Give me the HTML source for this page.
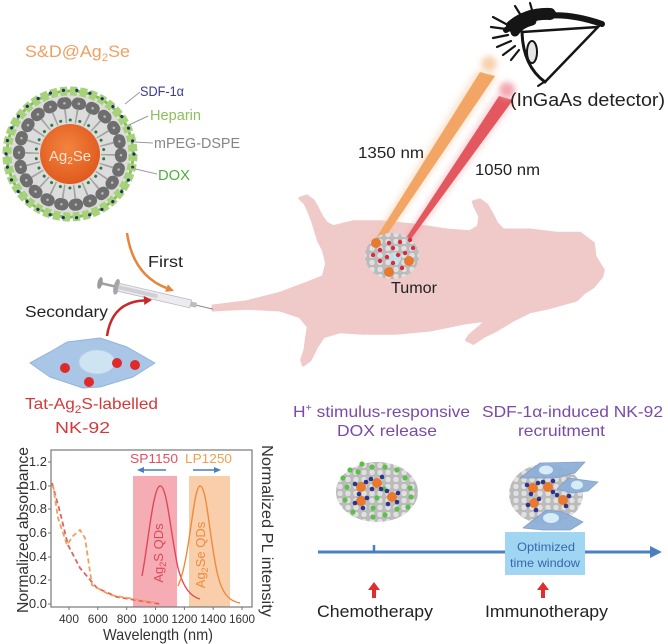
<!DOCTYPE html>
<html><head><meta charset="utf-8"><style>
html,body{margin:0;padding:0;background:#fff;}
svg{display:block;}
text{font-family:"Liberation Sans",Arial,sans-serif;}
</style></head><body>
<svg width="668" height="644" viewBox="0 0 668 644" xmlns="http://www.w3.org/2000/svg">
<defs>
<radialGradient id="core" cx="0.45" cy="0.4" r="0.6"><stop offset="0" stop-color="#f3843f"/><stop offset="1" stop-color="#e05a1e"/></radialGradient>
<pattern id="tex" width="8" height="7" patternUnits="userSpaceOnUse"><rect width="8" height="7" fill="#bcbcbc"/><circle cx="4" cy="3.5" r="3.1" fill="#e0e0e0" stroke="#a9a9a9" stroke-width="0.5"/></pattern>
<filter id="blur3" x="-50%" y="-50%" width="200%" height="200%"><feGaussianBlur stdDeviation="3"/></filter>
</defs>

<!-- Mouse -->
<path fill="#f0c9c9" stroke="#f0c9c9" stroke-width="3" stroke-linejoin="round" d="M213,306 L247,301.7 L280,293.3 L306.7,283.3 L323.3,276.7 L326.7,263.3 L323.3,250 L318.3,240 L313.3,223.3 L308.3,210 L305,203.3 L300,198.3 L306.7,196 L313.3,200.7 L316.7,206.7 L321.7,216.7 L326.7,223.3 L333.3,226.7 L353.3,221.7 L380,221.7 L413.3,225 L446.7,230 L470,231.7 L478.3,226.7 L480,216.7 L475,206.7 L473.3,201.7 L480,200 L486.7,205 L491.7,213.3 L496.7,223.3 L503.3,230 L530,230 L556.7,233.3 L580,233.3 L593.3,243.3 L595,256.7 L603.3,270 L601.7,276.7 L593.3,286.7 L583.3,293.3 L576.7,300 L546.7,308.3 L530,311.7 L513.3,320 L496.7,330 L483.3,336.7 L473.3,343.3 L466.7,340 L470,335 L480,326.7 L486.7,320 L463.3,323.3 L430,330 L396.7,333.3 L363.3,333.3 L340,331.7 L323.3,336.7 L316.7,346.7 L310,360 L303.3,365 L301.7,360 L305,350 L306.7,336.7 L308.3,326.7 L300,316.7 L280,310 L246.7,308.3 L213,310 Z"/>

<!-- Beams -->
<polygon points="476,70 498,76 382,246 370,243" fill="#f6c8a0" opacity="0.45" filter="url(#blur3)"/>
<polygon points="496,94 516,100 410,244 401,242" fill="#f2a8b0" opacity="0.45" filter="url(#blur3)"/>
<polygon points="480,72 495,76 380,245 373,243" fill="#f2a564"/>
<polygon points="499,96 513,100 408,243 404,241" fill="#e2585e"/>
<circle cx="489" cy="64" r="8" fill="#f8d2b0" filter="url(#blur3)"/>
<circle cx="507" cy="90" r="8" fill="#f4a8b0" filter="url(#blur3)"/>

<!-- Tumor in mouse -->
<ellipse cx="392" cy="256" rx="27" ry="23" fill="url(#tex)"/>
<circle cx="395" cy="258" r="6" fill="#bfe6f0" opacity="0.8"/>
<g fill="#d42c40">
<circle cx="389" cy="243" r="2.2"/><circle cx="400" cy="242" r="2.2"/><circle cx="410" cy="240" r="2.2"/><circle cx="380" cy="250" r="2.2"/><circle cx="393" cy="248" r="2.2"/><circle cx="387" cy="257" r="2.2"/><circle cx="398" cy="255" r="2.2"/><circle cx="380" cy="261" r="2.2"/><circle cx="393" cy="263" r="2.2"/><circle cx="405" cy="253" r="2.2"/><circle cx="413" cy="248" r="2.2"/><circle cx="373" cy="255" r="2.2"/><circle cx="402" cy="268" r="2.2"/>
</g>
<g fill="#e8792e"><circle cx="376" cy="243" r="5"/><circle cx="409" cy="261" r="5"/><circle cx="389" cy="272" r="5"/></g>
<text x="391" y="293" font-size="16" fill="#222" textLength="46" lengthAdjust="spacingAndGlyphs">Tumor</text>

<!-- Eye -->
<g stroke="#151515" fill="none" stroke-linecap="round">
<path d="M522,32 L598,27 L545,82" stroke-width="2.5"/>
<path d="M522,32 Q523,66 545,82" stroke-width="3"/>
<ellipse cx="532" cy="52" rx="5" ry="11" stroke-width="2" fill="#e6e6e6"/>
<path d="M506,30 Q545,4 602,24" stroke-width="6"/>
<path d="M512,26 Q528,13 550,14" stroke-width="12"/>
<path d="M515,32 Q520,24 532,21" stroke-width="9"/>
<g stroke-width="2.2">
<path d="M506,24 L493,17"/><path d="M506,29 L491,27"/><path d="M508,35 L493,38"/><path d="M511,41 L497,47"/><path d="M515,46 L503,55"/><path d="M519,50 L511,60"/><path d="M520,14 L515,6"/><path d="M532,10 L530,3"/>
</g>
<path d="M544,82 L538,86" stroke-width="2"/>
</g>
<text x="510" y="106" font-size="18" fill="#222" textLength="155" lengthAdjust="spacingAndGlyphs">(InGaAs detector)</text>
<text x="358" y="158" font-size="16" fill="#222" textLength="66" lengthAdjust="spacingAndGlyphs">1350 nm</text>
<text x="475" y="175" font-size="16" fill="#222" textLength="65" lengthAdjust="spacingAndGlyphs">1050 nm</text>

<!-- Nanoparticle -->
<text x="25" y="57" font-size="17" fill="#f0a060" textLength="105" lengthAdjust="spacingAndGlyphs">S&amp;D@Ag<tspan font-size="11" dy="4">2</tspan><tspan dy="-4">Se</tspan></text>
<g transform="translate(70,154)">
<circle r="61" fill="#dcdcdc"/>
<circle r="63" fill="none" stroke="#8cbf5c" stroke-width="3"/>
<circle r="63" fill="none" stroke="#a6d27a" stroke-width="9" stroke-dasharray="7 2.896"/>
<circle r="64" fill="none" stroke="#22306a" stroke-width="3.2" stroke-linecap="round" stroke-dasharray="0.1 13.304"/>
<circle r="38" fill="none" stroke="#a2a2a2" stroke-width="14" stroke-dasharray="1.6 9.253"/>
<circle r="51" fill="none" stroke="#6e6e6e" stroke-width="12" stroke-linecap="round" stroke-dasharray="2.5 12.065"/>
<circle r="51" fill="none" stroke="#b8b8b8" stroke-width="2.5" stroke-linecap="round" stroke-dasharray="0.1 14.465" stroke-dashoffset="-1.2"/>
<circle r="34" fill="none" stroke="#2f7a3a" stroke-width="3" stroke-linecap="round" stroke-dasharray="0.1 9.61" stroke-dashoffset="-4.8"/>
<circle r="30" fill="url(#core)"/>
<text x="0" y="7" font-size="15" fill="#fde4d0" text-anchor="middle">Ag<tspan font-size="10" dy="3">2</tspan><tspan dy="-3">Se</tspan></text>
</g>
<g stroke="#9a9a9a" stroke-width="1">
<line x1="125" y1="104" x2="140" y2="92"/>
<line x1="129" y1="125" x2="148" y2="116"/>
<line x1="134" y1="142" x2="153" y2="143"/>
<line x1="131" y1="168" x2="157" y2="174"/>
</g>
<text x="140" y="96" font-size="14" fill="#3a3a92" textLength="44" lengthAdjust="spacingAndGlyphs">SDF-1α</text>
<text x="150" y="120" font-size="15" fill="#8cc05a" textLength="51" lengthAdjust="spacingAndGlyphs">Heparin</text>
<text x="154" y="148" font-size="15" fill="#868686" textLength="86" lengthAdjust="spacingAndGlyphs">mPEG-DSPE</text>
<text x="158" y="180" font-size="15" fill="#4caf3c" textLength="32" lengthAdjust="spacingAndGlyphs">DOX</text>

<!-- Syringe -->
<g transform="rotate(13 100 283)">
<line x1="100" y1="283" x2="119" y2="283" stroke="#a0a0a0" stroke-width="2.5"/>
<ellipse cx="100" cy="283" rx="2.5" ry="6" fill="#9a9a9a"/>
<ellipse cx="117" cy="283" rx="3" ry="8" fill="#a6a6a6"/>
<rect x="119" y="279" width="74" height="8" fill="#ececf0" stroke="#b8b8c0" stroke-width="0.8"/>
<rect x="119" y="281" width="40" height="4" fill="#cfcfd4"/>
<rect x="193" y="280.5" width="6" height="5" fill="#bdbdbd"/>
<line x1="199" y1="283" x2="216" y2="283" stroke="#888" stroke-width="1"/>
</g>

<!-- Arrows -->
<path d="M127,233 Q133,275 166.5,288.1" fill="none" stroke="#e8843a" stroke-width="2.5"/>
<polygon points="174,291 165.1,291.8 167.9,284.4" fill="#e8843a"/>
<path d="M107,336 Q112,302 144,300.5" fill="none" stroke="#c8282a" stroke-width="2.5"/>
<polygon points="152,300 144.3,305 143.7,296" fill="#c8282a"/>
<text x="148" y="267" font-size="16" fill="#222" textLength="35" lengthAdjust="spacingAndGlyphs">First</text>
<text x="25" y="317" font-size="16" fill="#222" textLength="83" lengthAdjust="spacingAndGlyphs">Secondary</text>

<!-- NK cell -->
<polygon points="30,363 50,352 67,342 100,338 127,347 155,363 133,377 100,387 83,388 50,377" fill="#a9c6e6" stroke="#94b4da" stroke-width="1" stroke-linejoin="round"/>
<ellipse cx="97" cy="362" rx="18" ry="12" fill="#cfe4f2" stroke="#b4cfe6" stroke-width="0.8"/>
<g fill="#e02a2a"><circle cx="65" cy="368" r="5"/><circle cx="117" cy="363" r="5"/><circle cx="135" cy="365" r="5"/><circle cx="89" cy="382" r="5"/></g>
<text x="25" y="409" font-size="16" fill="#d23a3a" textLength="133" lengthAdjust="spacingAndGlyphs">Tat-Ag<tspan font-size="11" dy="4">2</tspan><tspan dy="-4">S-labelled</tspan></text>
<text x="55" y="433" font-size="16" fill="#d23a3a" textLength="55" lengthAdjust="spacingAndGlyphs">NK-92</text>

<!-- Chart -->
<rect x="133" y="476" width="44" height="131" fill="#f4a3ad" opacity="0.9"/>
<rect x="189" y="476" width="41" height="131" fill="#f8c9a2" opacity="0.9"/>
<rect x="51" y="450" width="201" height="157" fill="none" stroke="#777" stroke-width="1.2"/>
<g stroke="#777" stroke-width="1">
<line x1="48" y1="462" x2="51" y2="462"/><line x1="48" y1="486" x2="51" y2="486"/><line x1="48" y1="509" x2="51" y2="509"/><line x1="48" y1="533" x2="51" y2="533"/><line x1="48" y1="557" x2="51" y2="557"/><line x1="48" y1="580" x2="51" y2="580"/><line x1="48" y1="604" x2="51" y2="604"/>
<line x1="69" y1="607" x2="69" y2="610"/><line x1="97.8" y1="607" x2="97.8" y2="610"/><line x1="126.7" y1="607" x2="126.7" y2="610"/><line x1="155.5" y1="607" x2="155.5" y2="610"/><line x1="184.4" y1="607" x2="184.4" y2="610"/><line x1="213.2" y1="607" x2="213.2" y2="610"/><line x1="242" y1="607" x2="242" y2="610"/>
</g>
<g font-size="13" fill="#333" text-anchor="end">
<text x="47" y="466">1.2</text><text x="47" y="490">1.0</text><text x="47" y="513">0.8</text><text x="47" y="537">0.6</text><text x="47" y="561">0.4</text><text x="47" y="584">0.2</text><text x="47" y="608">0.0</text>
</g>
<g font-size="12" fill="#333">
<text x="59" y="623" textLength="20" lengthAdjust="spacingAndGlyphs">400</text>
<text x="87.8" y="623" textLength="20" lengthAdjust="spacingAndGlyphs">600</text>
<text x="116.7" y="623" textLength="20" lengthAdjust="spacingAndGlyphs">800</text>
<text x="142.5" y="623" textLength="26" lengthAdjust="spacingAndGlyphs">1000</text>
<text x="171.4" y="623" textLength="26" lengthAdjust="spacingAndGlyphs">1200</text>
<text x="200.2" y="623" textLength="26" lengthAdjust="spacingAndGlyphs">1400</text>
<text x="229" y="623" textLength="26" lengthAdjust="spacingAndGlyphs">1600</text>
</g>
<text x="103" y="640" font-size="16" fill="#333" textLength="110" lengthAdjust="spacingAndGlyphs">Wavelength (nm)</text>
<text transform="translate(28,613) rotate(-90)" font-size="16" fill="#333" textLength="166" lengthAdjust="spacingAndGlyphs">Normalized absorbance</text>
<text transform="translate(262,445) rotate(90)" font-size="16" fill="#333" textLength="172" lengthAdjust="spacingAndGlyphs">Normalized PL intensity</text>
<path d="M52,483 L60,512 L68,545 L80,568 L97,588 L117,597 L147,602 L160,604" fill="none" stroke="#e26262" stroke-width="1.8" stroke-dasharray="5 3"/>
<path d="M53,485 L58,518 L67,545 L73,536 L80,530 L85,538 L92,585 L110,595 L140,600 L157,603" fill="none" stroke="#f0a060" stroke-width="1.8" stroke-dasharray="5 3"/>
<path d="M142,576 C148,545 153,487 160,486 C167,485 170,530 178,568 C184,590 192,597 200,599" fill="none" stroke="#e04858" stroke-width="1.4"/>
<path d="M178,586 C190,560 193,487 200,486 C207,485 210,545 218,576 C222,592 228,601 240,603" fill="none" stroke="#f08a3a" stroke-width="1.4"/>
<text x="130" y="463" font-size="13" fill="#e05060" textLength="48" lengthAdjust="spacingAndGlyphs">SP1150</text>
<text x="185" y="463" font-size="13" fill="#f0a050" textLength="47" lengthAdjust="spacingAndGlyphs">LP1250</text>
<g stroke="#4a7cc0" stroke-width="1.6"><line x1="166" y1="470" x2="142" y2="470"/><line x1="193" y1="470" x2="216" y2="470"/></g>
<polygon points="137,470 144,467 144,473" fill="#4a7cc0"/>
<polygon points="221,470 214,467 214,473" fill="#4a7cc0"/>
<text transform="translate(163,553) rotate(-90)" font-size="13" fill="#e04858" text-anchor="middle">Ag<tspan font-size="9" dy="3">2</tspan><tspan dy="-3">S QDs</tspan></text>
<text transform="translate(205,555) rotate(-90)" font-size="13" fill="#f08a3a" text-anchor="middle">Ag<tspan font-size="9" dy="3">2</tspan><tspan dy="-3">Se QDs</tspan></text>

<!-- Bottom right texts -->
<text x="293" y="417" font-size="16" fill="#7a4aa8" textLength="177" lengthAdjust="spacingAndGlyphs">H<tspan font-size="10" dy="-6">+</tspan><tspan dy="6"> stimulus-responsive</tspan></text>
<text x="337" y="436" font-size="16" fill="#7a4aa8" textLength="100" lengthAdjust="spacingAndGlyphs">DOX release</text>
<text x="482" y="417" font-size="16" fill="#7a4aa8" textLength="181" lengthAdjust="spacingAndGlyphs">SDF-1α-induced NK-92</text>
<text x="518" y="436" font-size="16" fill="#7a4aa8" textLength="87" lengthAdjust="spacingAndGlyphs">recruitment</text>

<!-- Chemo cluster -->
<ellipse cx="377" cy="492" rx="41" ry="30" fill="url(#tex)"/>
<g fill="#5cbf4c">
<circle cx="372" cy="467" r="2.6"/><circle cx="385" cy="467" r="2.6"/><circle cx="397" cy="470" r="2.6"/><circle cx="405" cy="478" r="2.6"/><circle cx="410" cy="488" r="2.6"/><circle cx="347" cy="487" r="2.6"/><circle cx="345" cy="500" r="2.6"/><circle cx="353" cy="512" r="2.6"/><circle cx="373" cy="517" r="2.6"/><circle cx="385" cy="515" r="2.6"/><circle cx="408" cy="507" r="2.6"/><circle cx="397" cy="509" r="2.6"/><circle cx="373" cy="508" r="2.6"/><circle cx="384" cy="489" r="2.6"/><circle cx="343" cy="478" r="2.6"/><circle cx="358" cy="472" r="2.6"/><circle cx="377" cy="498" r="2.6"/><circle cx="362" cy="464" r="2.6"/><circle cx="411" cy="497" r="2.6"/><circle cx="350" cy="470" r="2.6"/>
</g>
<g fill="#e8792e"><circle cx="361" cy="487" r="5"/><circle cx="377" cy="483" r="5"/><circle cx="361" cy="501" r="5"/><circle cx="392" cy="497" r="5"/></g>
<g fill="#2a348a">
<circle cx="355" cy="484" r="2.3"/><circle cx="366" cy="482" r="2.3"/><circle cx="359" cy="494" r="2.3"/>
<circle cx="371" cy="479" r="2.3"/><circle cx="382" cy="477" r="2.3"/><circle cx="381" cy="489" r="2.3"/><circle cx="372" cy="489" r="2.3"/>
<circle cx="355" cy="503" r="2.3"/><circle cx="367" cy="498" r="2.3"/><circle cx="363" cy="508" r="2.3"/>
<circle cx="387" cy="491" r="2.3"/><circle cx="398" cy="493" r="2.3"/><circle cx="397" cy="502" r="2.3"/><circle cx="388" cy="504" r="2.3"/>
</g>

<!-- Immuno cluster -->
<ellipse cx="546" cy="494" rx="37" ry="30" fill="url(#tex)"/>
<g fill="#e8792e"><circle cx="533" cy="488" r="5"/><circle cx="548" cy="487" r="5"/><circle cx="534" cy="503" r="5"/><circle cx="563" cy="500" r="5"/></g>
<g fill="#2a348a">
<circle cx="527" cy="485" r="2.3"/><circle cx="538" cy="483" r="2.3"/><circle cx="531" cy="494" r="2.3"/>
<circle cx="543" cy="482" r="2.3"/><circle cx="553" cy="481" r="2.3"/><circle cx="553" cy="492" r="2.3"/>
<circle cx="528" cy="505" r="2.3"/><circle cx="539" cy="499" r="2.3"/><circle cx="536" cy="510" r="2.3"/>
<circle cx="557" cy="495" r="2.3"/><circle cx="569" cy="496" r="2.3"/><circle cx="566" cy="506" r="2.3"/>
</g>
<g fill="#8eafd8" stroke="#7a9cc8" stroke-width="0.8" stroke-linejoin="round" opacity="0.95">
<polygon points="520,478 540,463 585,462 575,473 555,478"/>
<polygon points="557,489 568,478 598,482 588,491 572,493"/>
<polygon points="523,528 537,517 547,510 563,512 583,522 570,530 543,530"/>
</g>
<g fill="#d6ecf6"><ellipse cx="546" cy="470" rx="7" ry="4.5"/><ellipse cx="577" cy="485" rx="6" ry="4.5"/><ellipse cx="551" cy="518" rx="8" ry="5"/></g>

<!-- Timeline -->
<line x1="318" y1="552" x2="652" y2="552" stroke="#4a80c0" stroke-width="3"/>
<polygon points="650,546 662,552 650,558" fill="#4a80c0"/>
<line x1="374" y1="545" x2="374" y2="552" stroke="#4a80c0" stroke-width="2.5"/>
<rect x="505" y="532" width="80" height="43" fill="#a0d6f2"/>
<text x="517" y="551" font-size="12" fill="#3a66ae" textLength="58" lengthAdjust="spacingAndGlyphs">Optimized</text>
<text x="510" y="567" font-size="12" fill="#3a66ae" textLength="70" lengthAdjust="spacingAndGlyphs">time window</text>
<g fill="#e02e2e">
<polygon points="368,590 374,582 380,590"/><rect x="372" y="589" width="4" height="9"/>
<polygon points="537,590 543,582 549,590"/><rect x="541" y="589" width="4" height="9"/>
</g>
<text x="317" y="617" font-size="17" fill="#222" textLength="116" lengthAdjust="spacingAndGlyphs">Chemotherapy</text>
<text x="485" y="617" font-size="17" fill="#222" textLength="123" lengthAdjust="spacingAndGlyphs">Immunotherapy</text>
</svg>
</body></html>
